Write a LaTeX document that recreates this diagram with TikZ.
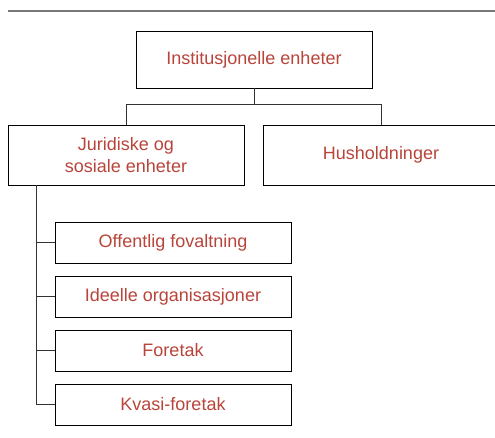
\documentclass[tikz,border=0pt]{standalone}
\usepackage{fontspec}
\setmainfont{Liberation Sans}
\usepackage{xcolor}
\definecolor{unitred}{RGB}{184,68,58}
\definecolor{rulegray}{RGB}{120,120,120}
\tikzset{%
	unit/.style={
		draw=black,
		line width=0.7pt,
		minimum width=177pt,
		text=unitred,
		align=center,
		font=\fontsize{13.5}{17}\selectfont
	},
	link/.style={
		draw=black!80,
		line width=0.6pt
	},
}
\begin{document}
\begin{tikzpicture}[
			x=0.75pt, y=-0.75pt,
			top/.style={unit, minimum height=42.75pt},
			mid/.style={unit, minimum height=45pt},
			sub/.style={unit, minimum height=30.75pt}
			]
			\useasboundingbox (0,0) rectangle (495,437);
			\draw[rulegray, line width=1.5pt] (8,11) -- (495,11);
			\node[top] (inst) at (254,59.5) {Institusjonelle enheter};
			\node[mid] (jur) at (126,155) {Juridiske og\\sosiale enheter};
			\node[mid] (hush) at (381,155) {Husholdninger};
			\node[sub] (off) at (173,242.5) {Offentlig fovaltning};
			\node[sub] (ideell) at (173,296.5) {Ideelle organisasjoner};
			\node[sub] (foretak) at (173,350.5) {Foretak};
			\node[sub] (kvasi) at (173,404.5) {Kvasi-foretak};
			% tree lines
			\draw[link] (inst.south) -- ++(0,16) coordinate (split) -| (jur.north);
			\draw[link] (split) -| (hush.north);
			\draw[link] (jur.south west) ++(29,0) coordinate (trunk) |- (kvasi.west);
			\foreach \k in {off, ideell, foretak}
				\draw[link] (trunk |- \k.west) -- (\k.west);
		\end{tikzpicture}
\end{document}
